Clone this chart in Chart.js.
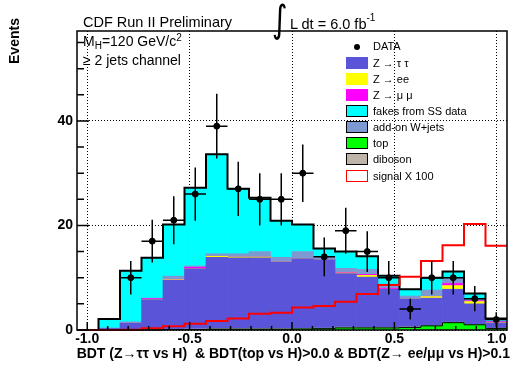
<!DOCTYPE html>
<html><head><meta charset="utf-8">
<script src="https://cdn.jsdelivr.net/npm/chart.js@4.4.1/dist/chart.umd.min.js"></script>
<style>
html,body{margin:0;padding:0;background:#fff;}
#wrap{position:relative;width:511px;height:370px;overflow:hidden;font-family:"Liberation Sans",Arial,Helvetica,sans-serif;color:#000;}
#c{position:absolute;left:0;top:0;}
.t{position:absolute;white-space:nowrap;line-height:1;}
.row{position:absolute;left:346px;height:13px;width:160px;}
.box{position:absolute;left:0;top:0;width:20px;height:10px;border:1.5px solid #000;}
.lab{position:absolute;left:27px;top:0;line-height:13px;font-size:11px;}
</style></head><body>
<div id="wrap">
<canvas id="c" width="511" height="370"></canvas>
<div class="t" style="left:83px;top:15px;font-size:14.5px;">CDF Run II Preliminary</div>
<div class="t" style="left:272px;top:1px;font-size:30px;font-family:'DejaVu Sans';transform:scaleY(1.25);transform-origin:top left;">∫</div>
<div class="t" style="left:290px;top:15px;font-size:14.5px;">L dt = 6.0 fb<sup style="font-size:10px;position:relative;top:-2px;">-1</sup></div>
<div class="t" style="left:83px;top:33px;font-size:14px;">M<sub style="font-size:10px;vertical-align:-3px;">H</sub>=120 GeV/c<sup style="font-size:10px;vertical-align:5px;">2</sup></div>
<div class="t" style="left:83px;top:53px;font-size:14px;">≥ 2 jets channel</div>
<div class="t" style="left:-9px;top:34px;font-size:14px;font-weight:bold;transform:rotate(-90deg);transform-origin:center;width:46px;text-align:center;">Events</div>
<div class="t" style="right:1px;top:346px;font-size:14px;font-weight:bold;">BDT (Z→ττ vs H)&nbsp; &amp; BDT(top vs H)&gt;0.0 &amp; BDT(Z→ ee/μμ vs H)&gt;0.1</div>

<div class="row" style="top:40px;"><div style="position:absolute;left:8px;top:3.5px;width:6px;height:6px;border-radius:50%;background:#000;"></div><div class="lab">DATA</div></div>
<div class="row" style="top:56.5px;"><div class="box" style="background:#5954d8;border-color:#5954d8;"></div><div class="lab">Z → τ τ</div></div>
<div class="row" style="top:72.5px;"><div class="box" style="background:#ffff00;border-color:#ffff00;"></div><div class="lab">Z → ee</div></div>
<div class="row" style="top:88.5px;"><div class="box" style="background:#ff00ff;border-color:#ff00ff;"></div><div class="lab">Z → μ μ</div></div>
<div class="row" style="top:105px;"><div class="box" style="background:#00ffff;"></div><div class="lab">fakes from SS data</div></div>
<div class="row" style="top:121px;"><div class="box" style="background:#7d99d1;"></div><div class="lab">add-on W+jets</div></div>
<div class="row" style="top:137px;"><div class="box" style="background:#00ff00;"></div><div class="lab">top</div></div>
<div class="row" style="top:153px;"><div class="box" style="background:#beb4aa;"></div><div class="lab">diboson</div></div>
<div class="row" style="top:169.5px;"><div class="box" style="background:#fff;border-color:#ff0000;"></div><div class="lab">signal X 100</div></div>
</div>
<script>
// ---- data ----
const BIN_CENTERS = [-0.9975,-0.8925,-0.7875,-0.6825,-0.5775,-0.4725,-0.3675,-0.2625,-0.1575,-0.0525,
                      0.0525, 0.1575, 0.2625, 0.3675, 0.4725, 0.5775, 0.6825, 0.7875, 0.8925, 0.9975];
const BIN_WIDTH = 0.105;
const X_MIN = -1.05, X_MAX = 1.05;
const Y_MIN = 0, Y_MAX = 57.2;
const X_TICKS = [-1.0, -0.5, 0.0, 0.5, 1.0];
const X_TICK_LABELS = ['-1.0', '-0.5', '0.0', '0.5', '1.0'];
const Y_TICKS = [0, 20, 40];
const Y_TICK_LABELS = ['0', '20', '40'];

const DATA     = [null,null,10,17,21,26,39,27,25,25,30,14,19,15,10,4,10,10,6,2];
const DATA_ERR = [0,0,3.2,4.1,4.6,5.1,6.2,5.2,5.0,5.0,5.5,3.7,4.4,3.9,3.2,2.0,3.2,3.2,2.4,1.4];
const TOP      = [0,0,0,0,0.1,0.1,0.15,0.15,0.15,0.15,0.2,0.25,0.4,0.4,0.4,0.5,0.8,1.4,1.0,0.3];
const DIBOSON  = [0,0,0,0,0.05,0.1,0.1,0.1,0.1,0.1,0.1,0.1,0.15,0.1,0.1,0.1,0.1,0.1,0.05,0.05];
const ZTAUTAU  = [0,0.3,1.3,5.8,9.35,11.5,13.65,13.55,13.55,12.75,13.3,13.05,10.25,9.6,7.3,5.3,5.2,6.3,3.95,1.0];
const ZEE      = [0,0,0,0,0.1,0,0.2,0.15,0.15,0,0,0,0.1,0.35,0,0,0.3,0.7,0.45,0.05];
const ZMUMU    = [0,0,0,0.2,0,0.3,0,0,0,0,0,0,0.1,0.2,0.2,0,0,0.4,0.15,0.2];
const WJETS    = [0,0.1,0.25,0.1,0.7,0.25,0.5,0.65,1.05,0.9,1.4,0.6,0.8,0.95,0.8,0.6,1.25,1.0,0.45,0.1];
const FAKES    = [0,1.7,9.8,7.7,9.9,14.95,19.0,12.4,10.3,7.0,5.2,1.6,3.2,2.5,1.6,1.3,2.35,1.3,0.95,0.5];
const SIGNAL   = [0,0,0.05,0.35,0.7,1.2,1.7,2.2,3.1,3.3,4.3,4.6,5.4,6.9,8.6,10.2,13.2,16.2,20.3,16.1];

// ---- helpers ----
const EDGES = BIN_CENTERS.map(c => c - BIN_WIDTH / 2).concat([BIN_CENTERS[BIN_CENTERS.length - 1] + BIN_WIDTH / 2]);
const STACK = [TOP, DIBOSON, ZTAUTAU, ZEE, ZMUMU, WJETS, FAKES];
const TOTAL = BIN_CENTERS.map((_, i) => STACK.reduce((s, a) => s + a[i], 0));
const barPts = v => v.map((y, i) => ({x: BIN_CENTERS[i], y}));
const stepPts = v => v.map((y, i) => ({x: EDGES[i], y})).concat([{x: EDGES[EDGES.length - 1], y: v[v.length - 1]}]);

const bar = (label, vals, color) => ({
  type: 'bar', label, data: barPts(vals), backgroundColor: color, borderWidth: 0,
  stack: 'mc', order: 10, barPercentage: 1, categoryPercentage: 1
});
const step = (label, vals, color, width, stack, order) => ({
  type: 'line', label, data: stepPts(vals), borderColor: color, borderWidth: width,
  stepped: 'before', pointRadius: 0, fill: false, stack, order, clip: 4
});

const FONT = {family: '"Liberation Sans", Arial, Helvetica, sans-serif', size: 14, weight: 'bold'};

const decor = {
  id: 'decor',
  afterDatasetsDraw(chart) {
    const {ctx, chartArea: a, scales: {x, y}} = chart;
    ctx.save();
    // error bars
    ctx.strokeStyle = '#000'; ctx.lineWidth = 1.5;
    DATA.forEach((v, i) => {
      if (v == null) return;
      const cx = x.getPixelForValue(BIN_CENTERS[i]);
      const cy = y.getPixelForValue(v);
      ctx.beginPath();
      ctx.moveTo(x.getPixelForValue(BIN_CENTERS[i] - BIN_WIDTH / 2), cy);
      ctx.lineTo(x.getPixelForValue(BIN_CENTERS[i] + BIN_WIDTH / 2), cy);
      ctx.moveTo(cx, y.getPixelForValue(v - DATA_ERR[i]));
      ctx.lineTo(cx, y.getPixelForValue(v + DATA_ERR[i]));
      ctx.stroke();
    });
    // tick marks (inside)
    ctx.lineWidth = 1.5;
    ctx.beginPath();
    for (let k = -10; k <= 10; k++) {
      const v = k / 10;
      const px = x.getPixelForValue(v);
      const len = (k % 5 === 0) ? 8 : 4;
      ctx.moveTo(px, a.bottom); ctx.lineTo(px, a.bottom - len);
    }
    for (let v = 0; v <= Y_MAX; v += 5) {
      const py = y.getPixelForValue(v);
      const len = (v % 20 === 0) ? 12 : 7;
      ctx.moveTo(a.left, py); ctx.lineTo(a.left + len, py);
    }
    ctx.stroke();
    // frame
    ctx.lineWidth = 1.5;
    ctx.strokeRect(a.left, a.top, a.right - a.left, a.bottom - a.top);
    ctx.restore();
  }
};

new Chart(document.getElementById('c'), {
  type: 'bar',
  data: {
    datasets: [
      {type: 'scatter', label: 'DATA', data: DATA.map((v, i) => ({x: BIN_CENTERS[i], y: v})).filter(p => p.y != null),
       backgroundColor: '#000', borderColor: '#000', pointRadius: 3, pointHoverRadius: 3, stack: 'data', order: 1},
      step('signal X 100', SIGNAL, '#ff0000', 2, 'sig', 2),
      step('total', TOTAL, '#000', 2, 'tot', 3),
      step('top outline', TOP, '#000', 1, 'topo', 4),
      bar('top', TOP, '#00ff00'),
      bar('diboson', DIBOSON, '#beb4aa'),
      bar('Z → τ τ', ZTAUTAU, '#5954d8'),
      bar('Z → ee', ZEE, '#ffff00'),
      bar('Z → μ μ', ZMUMU, '#ff00ff'),
      bar('add-on W+jets', WJETS, '#7d99d1'),
      bar('fakes from SS data', FAKES, '#00ffff')
    ]
  },
  options: {
    responsive: false, animation: false, devicePixelRatio: 1,
    layout: {padding: {left: 0, right: 1, top: 31, bottom: 0}},
    plugins: {legend: {display: false}, tooltip: {enabled: false}, title: {display: false}},
    scales: {
      x: {
        type: 'linear', min: X_MIN, max: X_MAX, offset: false, stacked: true,
        afterBuildTicks: s => { s.ticks = X_TICKS.map(v => ({value: v})); },
        afterFit: s => { s.height = 40; },
        ticks: {callback: (v, i) => X_TICK_LABELS[i], font: FONT, color: '#000', padding: 1, maxRotation: 0, autoSkip: false},
        grid: {color: '#000', lineWidth: 1, drawTicks: false, offset: false},
        border: {display: false, dash: [1, 2]}
      },
      y: {
        type: 'linear', min: Y_MIN, max: Y_MAX, stacked: true,
        afterBuildTicks: s => { s.ticks = Y_TICKS.map(v => ({value: v})); },
        afterFit: s => { s.width = 77; },
        ticks: {callback: (v, i) => Y_TICK_LABELS[i], font: FONT, color: '#000', padding: 4},
        grid: {color: '#000', lineWidth: 1, drawTicks: false},
        border: {display: false, dash: [1, 2]}
      }
    }
  },
  plugins: [decor]
});
</script>
</body></html>
